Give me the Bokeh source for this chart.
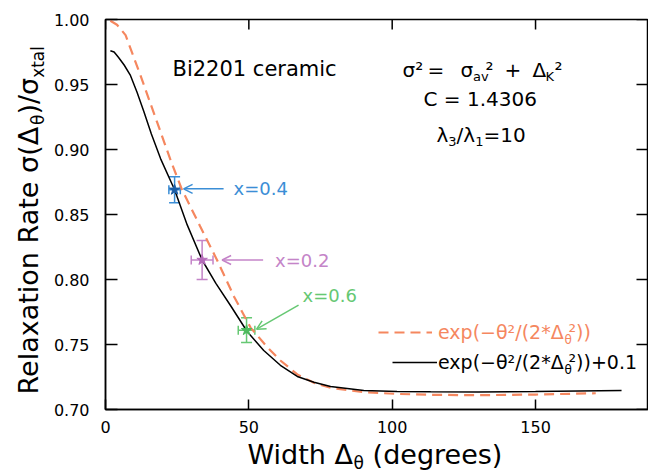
import math
from bokeh.plotting import figure
from bokeh.layouts import row, column
from bokeh.models import (Range1d, FixedTicker, Label, Whisker, ColumnDataSource,
                          Arrow, OpenHead, TeeHead, Legend, LegendItem, NumeralTickFormatter)
from bokeh.embed import file_html
from bokeh.resources import INLINE

# ---------------- data ----------------
delta_gauss = [1.7, 4.0, 7.0, 12.2, 18.0, 23.0, 26.7, 33.0, 38.9, 44.8, 50.6, 56.4, 61.0,
               66.9, 72.7, 78.5, 90.1, 101.7, 113.4, 130.0, 150.0, 171.0]
rate_gauss = [0.999, 0.996, 0.988, 0.957, 0.921, 0.890, 0.869, 0.841, 0.815, 0.787, 0.763,
              0.748, 0.7377, 0.727, 0.7205, 0.7167, 0.7133, 0.712, 0.7113, 0.711, 0.7115, 0.7125]

delta_offset = [1.7, 3.0, 4.5, 6.5, 8.7, 11.0, 13.4, 16.0, 19.2, 24.1, 28.5, 33.7, 38.5, 43.6,
                49.4, 55.2, 61.0, 66.9, 72.7, 78.5, 90.1, 101.7, 113.4, 130.0, 150.0, 180.0]
rate_offset = [0.976, 0.975, 0.971, 0.965, 0.957, 0.944, 0.929, 0.912, 0.893, 0.869, 0.842,
               0.815, 0.797, 0.780, 0.760, 0.7454, 0.734, 0.7254, 0.721, 0.7177, 0.7146,
               0.7138, 0.7136, 0.7135, 0.7138, 0.7146]

sample_names = ["x=0.4", "x=0.2", "x=0.6"]
sample_delta = [24.1, 33.7, 49.2]
sample_rate = [0.869, 0.815, 0.761]
sample_delta_err = [2.0, 3.8, 2.9]
sample_rate_err = [0.010, 0.015, 0.0095]
sample_bar_colors = ["#3b8ed6", "#c484c8", "#66c873"]
sample_star_colors = ["#1d5ea6", "#b56cba", "#4dbb5e"]

x_ticks = [0, 50, 100, 150]
y_ticks = [0.70, 0.75, 0.80, 0.85, 0.90, 0.95, 1.00]

ORANGE = "#f5875f"
FONT = "DejaVu Sans"

# ---------------- geometry ----------------
W, H = 648, 473
YT_W = 50          # strip holding the y title (absolute x 0..50)
XT_H = 33          # strip holding the x title (absolute y 440..473)
MAIN_W = W - YT_W
MAIN_H = H - XT_H
FL, FT, FR = 105, 19, 0
FBOT = 409
X0, X1 = 0.0, 189.4
Y0, Y1 = 0.70, 1.00
FW = W - FL - FR
FH = FBOT - FT
MID = 0.35         # distance from alphabetic baseline to text middle, in em


def to_x(px):
    return X0 + (px - FL) * (X1 - X0) / FW


def to_y(py):
    return Y1 - (py - FT) * (Y1 - Y0) / FH


def to_px(x):
    return FL + (x - X0) * FW / (X1 - X0)


def to_py(y):
    return FT + (Y1 - y) * FH / (Y1 - Y0)


WID = {' ': 318, '(': 390, ')': 390, '*': 500, '+': 838, '.': 318, '/': 337, '=': 838,
       'B': 686, 'C': 698, 'K': 656, 'R': 695, 'W': 989, 'a': 613, 'c': 550, 'd': 635,
       'e': 615, 'g': 635, 'h': 634, 'i': 278, 'l': 278, 'm': 974, 'n': 634, 'o': 612,
       'p': 635, 'r': 411, 's': 521, 't': 392, 'v': 592, 'x': 592, '²': 401, '−': 838,
       'Δ': 684, 'θ': 612, 'λ': 592, 'σ': 634}


def measure(text, size):
    return sum(WID.get(c, 636 if c.isdigit() else 600) for c in text) * size / 1000.0


p = figure(width=MAIN_W, height=MAIN_H, x_range=Range1d(X0, X1), y_range=Range1d(Y0, Y1),
           output_backend="svg", toolbar_location=None, title=None,
           min_border_left=FL - YT_W, min_border_right=FR, min_border_top=FT,
           min_border_bottom=MAIN_H - FBOT)
p.background_fill_color = "white"
p.border_fill_color = "white"
p.outline_line_color = "black"
p.outline_line_width = 1.5
p.xgrid.visible = False
p.ygrid.visible = False


def style_axis(ax, tick_len):
    ax.axis_line_color = "black"
    ax.axis_line_width = 1.5
    ax.major_tick_line_color = "black"
    ax.major_tick_line_width = 1.5
    ax.major_tick_in = tick_len
    ax.major_tick_out = 0
    ax.minor_tick_in = 0
    ax.minor_tick_out = 0
    ax.minor_tick_line_color = None
    ax.major_label_text_font = FONT
    ax.major_label_text_font_size = "16px"
    ax.major_label_text_color = "black"


xa = p.xaxis[0]
xa.ticker = FixedTicker(ticks=x_ticks)
xa.formatter = NumeralTickFormatter(format="0")
style_axis(xa, 10)
xa.major_label_standoff = 11

ya = p.yaxis[0]
ya.ticker = FixedTicker(ticks=y_ticks)
ya.formatter = NumeralTickFormatter(format="0.00")
style_axis(ya, 12)
ya.major_label_standoff = 16

# mirrored inward ticks on the top and right edges
top_len = 10 * (Y1 - Y0) / FH
p.segment(x0=x_ticks, y0=[Y1] * len(x_ticks), x1=x_ticks, y1=[Y1 - top_len] * len(x_ticks),
          line_color="black", line_width=1.5)
right_len = 12 * (X1 - X0) / FW
p.segment(x0=[X1] * len(y_ticks), y0=y_ticks, x1=[X1 - right_len] * len(y_ticks), y1=y_ticks,
          line_color="black", line_width=1.5)

# ---------------- curves ----------------
r_gauss = p.line(delta_gauss, rate_gauss, line_color=ORANGE, line_width=2.2, line_dash="10 6")
r_offset = p.line(delta_offset, rate_offset, line_color="black", line_width=1.5)

LEG_MAIN = "exp(−θ²/(2*Δ"
LEG_FS = 19


def make_legend(renderer, color, left, center_y, glyph_w, standoff):
    half = 11
    leg = Legend(items=[LegendItem(label=LEG_MAIN, renderers=[renderer])],
                 location=(left - FL, FBOT - (center_y + half)),
                 glyph_width=glyph_w, glyph_height=20, label_height=20,
                 label_standoff=standoff, spacing=0, padding=0, margin=0,
                 border_line_color=None, background_fill_alpha=0,
                 label_text_font=FONT, label_text_font_size=f"{LEG_FS}px",
                 label_text_color=color)
    p.add_layout(leg)


make_legend(r_gauss, ORANGE, 378, 332, 54, 6)
make_legend(r_offset, "black", 392, 362, 45, 1)

# ---------------- samples ----------------
for i in range(len(sample_names)):
    c = sample_bar_colors[i]
    src = ColumnDataSource(dict(x=[sample_delta[i]], y=[sample_rate[i]],
                                ylo=[sample_rate[i] - sample_rate_err[i]],
                                yhi=[sample_rate[i] + sample_rate_err[i]],
                                xlo=[sample_delta[i] - sample_delta_err[i]],
                                xhi=[sample_delta[i] + sample_delta_err[i]]))
    p.add_layout(Whisker(source=src, base="x", lower="ylo", upper="yhi", dimension="height",
                         line_color=c, line_width=1.5,
                         lower_head=TeeHead(size=11, line_color=c, line_width=1.5),
                         upper_head=TeeHead(size=11, line_color=c, line_width=1.5)))
    p.add_layout(Whisker(source=src, base="y", lower="xlo", upper="xhi", dimension="width",
                         line_color=c, line_width=1.5,
                         lower_head=TeeHead(size=9, line_color=c, line_width=1.5),
                         upper_head=TeeHead(size=9, line_color=c, line_width=1.5)))
    p.scatter(x=[sample_delta[i]], y=[sample_rate[i]], marker="star", size=11,
              fill_color=sample_star_colors[i], line_color=sample_star_colors[i])

# arrow / label offsets (pixels) relative to each sample point
arrow_end_off = [(9, -1), (20, 0), (10, -1)]
arrow_start_off = [(49, -1), (61, 0), (52, -25)]
label_off = [(59, -1), (73, 0), (56, -35)]
for i in range(len(sample_names)):
    c = sample_bar_colors[i]
    px0, py0 = to_px(sample_delta[i]), to_py(sample_rate[i])
    ex, ey = px0 + arrow_end_off[i][0], py0 + arrow_end_off[i][1]
    sx, sy = px0 + arrow_start_off[i][0], py0 + arrow_start_off[i][1]
    p.add_layout(Arrow(x_start=to_x(sx), y_start=to_y(sy), x_end=to_x(ex), y_end=to_y(ey),
                       line_color=c, line_width=1.5,
                       end=OpenHead(size=9, line_color=c, line_width=1.5)))
    lx, ly = px0 + label_off[i][0], py0 + label_off[i][1]
    p.add_layout(Label(x=to_x(lx), y=to_y(ly), text=sample_names[i], text_font=FONT,
                       text_font_size="18px", text_color=c, text_align="left",
                       text_baseline="middle"))


# ---------------- texts ----------------
def lab(fig, fx, fy, text, px, py, size, color="black", angle=0.0):
    # (px, py) is the alphabetic baseline start; converted to the text middle
    if angle:
        cx, cy = px - MID * size, py
    else:
        cx, cy = px, py - MID * size
    fig.add_layout(Label(x=fx(cx), y=fy(cy), text=text, text_font=FONT,
                         text_font_size=f"{size}px", text_color=color, angle=angle,
                         text_align="left", text_baseline="middle"))


def rich(fig, fx, fy, pieces, px, py, color="black", rotated=False):
    cur = 0.0
    for piece in pieces:
        text, size, dy = piece[0], piece[1], piece[2]
        adv = piece[3] if len(piece) > 3 else None
        if rotated:
            lab(fig, fx, fy, text, px + dy, py - cur, size, color, math.pi / 2)
        else:
            lab(fig, fx, fy, text, px + cur, py + dy, size, color)
        cur += measure(text, size) if adv is None else adv


def blank_fig(w, h, xr, yr):
    f = figure(width=w, height=h, x_range=Range1d(*xr), y_range=Range1d(*yr),
               output_backend="svg", toolbar_location=None, x_axis_type=None, y_axis_type=None,
               title=None, min_border=0, min_border_left=0, min_border_right=0,
               min_border_top=0, min_border_bottom=0)
    f.outline_line_color = None
    f.xgrid.visible = False
    f.ygrid.visible = False
    f.background_fill_color = "white"
    f.border_fill_color = "white"
    return f


# x title strip: its frame is aligned with the main frame (absolute x 105..648, y 440..473)
xt = blank_fig(MAIN_W, XT_H, (0, FW), (0, XT_H))
theta_adv = measure("θ", 17) + measure(" ", 27)
rich(xt, lambda px: px - FL, lambda py: H - py,
     [("Width Δ", 27, 0), ("θ", 17, 5, theta_adv), ("(degrees)", 27, 0)], 247, 463)

# y title strip: frame at absolute x 0..50, y 0..440
yt = blank_fig(YT_W, MAIN_H, (0, YT_W), (H - MAIN_H, H))
rich(yt, lambda px: px, lambda py: H - py,
     [("Relaxation Rate σ(Δ", 27, 0), ("θ", 17, 6), (")/σ", 27, 0), ("xtal", 17, 6)],
     37, 394, rotated=True)

# annotations inside the plot
ident_x, ident_y = to_x, to_y
lab(p, ident_x, ident_y, "Bi2201 ceramic", 172, 76, 21)
for t, x, dy, s in [("σ²", 402, 0, 20), ("=", 427, 0, 20), ("σ", 460, 0, 20), ("av", 472.6, 5, 13),
                    ("²", 485, 0, 20), ("+", 504, 0, 20), ("Δ", 532, 0, 20), ("K", 545, 5, 13),
                    ("²", 554, 0, 20)]:
    lab(p, ident_x, ident_y, t, x, 76 + dy, s)
lab(p, ident_x, ident_y, "C = 1.4306", 423, 105, 20)
rich(p, ident_x, ident_y,
     [("λ", 20, 0), ("3", 13, 5), ("/λ", 20, 0), ("1", 13, 5), ("=10", 20, 0)], 436, 141)

# remainder of the legend texts (subscript / superscript parts)
leg_x = 438 + measure(LEG_MAIN, LEG_FS)
rich(p, ident_x, ident_y, [("θ", 12, 5, 4), ("²", LEG_FS, -1), ("))", LEG_FS, 0)],
     leg_x, 338.5, color=ORANGE)
rich(p, ident_x, ident_y, [("θ", 12, 5, 4), ("²", LEG_FS, -1), ("))+0.1", LEG_FS, 0)],
     leg_x, 368.5)

layout = row(yt, column(p, xt))
open("out.html", "w").write(file_html(layout, INLINE))
